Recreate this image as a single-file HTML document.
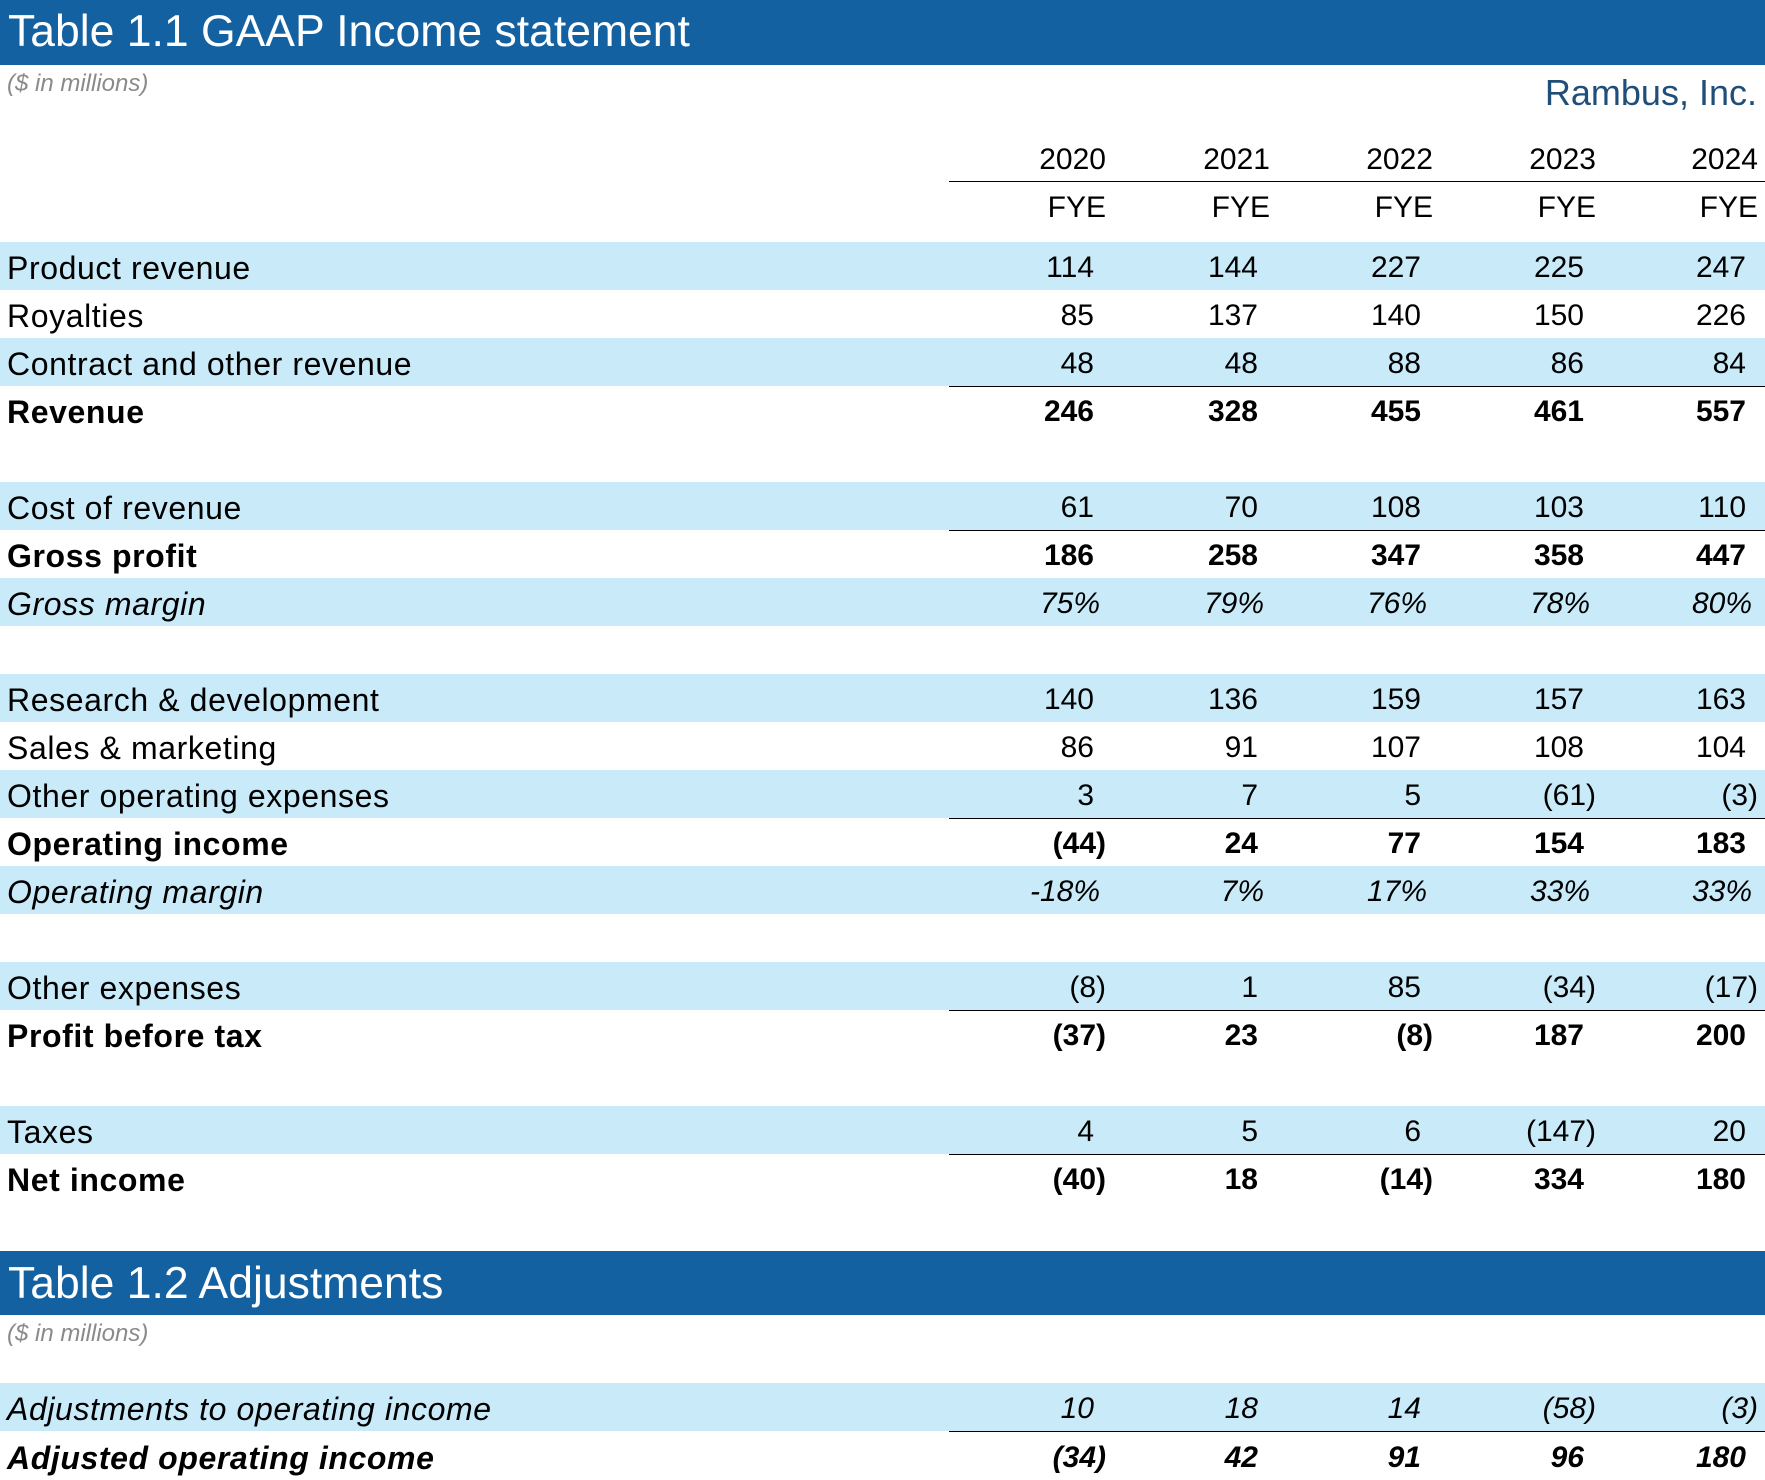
<!DOCTYPE html>
<html><head><meta charset="utf-8">
<style>
html,body{margin:0;padding:0;background:#fff;}
#page{position:relative;width:1765px;height:1480px;overflow:hidden;font-family:"Liberation Sans",sans-serif;color:#000;}
.hdr{position:absolute;left:0;width:1765px;background:#1461a1;color:#fff;font-size:44.5px;}
.hdr span{position:absolute;left:8px;}
.sub{position:absolute;left:7px;font-size:24px;font-style:italic;color:#8a8a8a;}
.band{position:absolute;left:0;width:1765px;height:48px;background:#c9eaf8;}
.lbl{position:absolute;left:7px;font-size:32px;letter-spacing:0.6px;line-height:48px;height:48px;white-space:nowrap;}
.num{position:absolute;font-size:30px;line-height:48px;height:48px;text-align:right;white-space:nowrap;}
.ul{position:absolute;left:949px;right:0;height:0;border-top:1.5px solid #000;}
.b{font-weight:bold;} .i{font-style:italic;}
</style></head>
<body>
<div id="page">
<div class="hdr" style="top:0;height:65px"><span style="top:7px">Table 1.1 GAAP Income statement</span></div>
<div class="sub" style="top:70px">($ in millions)</div>
<div style="position:absolute;right:8px;top:72px;font-size:36px;color:#1f4e79">Rambus, Inc.</div>
<div class="hdr" style="top:1251px;height:64px"><span style="top:8px">Table 1.2 Adjustments</span></div>
<div class="sub" style="top:1320px">($ in millions)</div>
</div>
<script>
const years=["2020","2021","2022","2023","2024"];
const productRevenue=["114","144","227","225","247"];
const royalties=["85","137","140","150","226"];
const contractRevenue=["48","48","88","86","84"];
const revenue=["246","328","455","461","557"];
const costOfRevenue=["61","70","108","103","110"];
const grossProfit=["186","258","347","358","447"];
const grossMargin=["75%","79%","76%","78%","80%"];
const rnd=["140","136","159","157","163"];
const salesMarketing=["86","91","107","108","104"];
const otherOpex=["3","7","5","(61)","(3)"];
const operatingIncome=["(44)","24","77","154","183"];
const operatingMargin=["-18%","7%","17%","33%","33%"];
const otherExpenses=["(8)","1","85","(34)","(17)"];
const profitBeforeTax=["(37)","23","(8)","187","200"];
const taxes=["4","5","6","(147)","20"];
const netIncome=["(40)","18","(14)","334","180"];
const adjustments=["10","18","14","(58)","(3)"];
const adjustedOpIncome=["(34)","42","91","96","180"];

const rows=[
 {l:"Product revenue",v:productRevenue,band:1,r:0},
 {l:"Royalties",v:royalties,r:1},
 {l:"Contract and other revenue",v:contractRevenue,band:1,r:2,ul:1},
 {l:"Revenue",v:revenue,b:1,r:3},
 {l:"Cost of revenue",v:costOfRevenue,band:1,r:5,ul:1},
 {l:"Gross profit",v:grossProfit,b:1,r:6},
 {l:"Gross margin",v:grossMargin,i:1,band:1,r:7},
 {l:"Research & development",v:rnd,band:1,r:9},
 {l:"Sales & marketing",v:salesMarketing,r:10},
 {l:"Other operating expenses",v:otherOpex,band:1,r:11,ul:1},
 {l:"Operating income",v:operatingIncome,b:1,r:12},
 {l:"Operating margin",v:operatingMargin,i:1,band:1,r:13},
 {l:"Other expenses",v:otherExpenses,band:1,r:15,ul:1},
 {l:"Profit before tax",v:profitBeforeTax,b:1,r:16},
 {l:"Taxes",v:taxes,band:1,r:18,ul:1},
 {l:"Net income",v:netIncome,b:1,r:19},
 {l:"Adjustments to operating income",v:adjustments,i:1,band:1,top:1383,ul:1},
 {l:"Adjusted operating income",v:adjustedOpIncome,b:1,i:1,top:1432}
];
const colRight=[1106,1270,1433,1596,1758];
const page=document.getElementById('page');
function slug(s){return s.toLowerCase().replace(/&/g,'and').replace(/[^a-z0-9]+/g,'-').replace(/-$/,'');}
years.forEach((y,k)=>{
 const d=document.createElement('div');
 d.className='num';
 d.style.top='136px';d.style.right=(1765-colRight[k])+'px';
 d.textContent=y;
 
 
 page.appendChild(d);
 const f=document.createElement('div');
 f.className='num';
 f.style.top='184px';f.style.right=(1765-colRight[k])+'px';
 f.textContent='FYE';
 
 
 page.appendChild(f);
});
const hl=document.createElement('div');
hl.className='ul';hl.style.top='181px';


page.appendChild(hl);

rows.forEach(row=>{
 const top=row.top!==undefined?row.top:242+row.r*48;
 const key=slug(row.l);
 if(row.band){
  const bd=document.createElement('div');
  bd.className='band';bd.style.top=top+'px';
  
  
  page.appendChild(bd);
 }
 const lb=document.createElement('div');
 lb.className='lbl'+(row.b?' b':'')+(row.i?' i':'');
 lb.style.top=(top+2)+'px';
 lb.textContent=row.l;
 
 
 page.appendChild(lb);
 row.v.forEach((val,k)=>{
  const n=document.createElement('div');
  n.className='num'+(row.b?' b':'')+(row.i?' i':'');
  let pad=val.endsWith(')')?0:(val.endsWith('%')?6:12);
  n.style.top=(top+2)+'px';
  n.style.right=(1765-colRight[k]+pad)+'px';
  n.textContent=val;
  
  
  page.appendChild(n);
 });
 if(row.ul){
  const u=document.createElement('div');
  u.className='ul';u.style.top=(top+48)+'px';
  
  
  page.appendChild(u);
 }
});
</script>
</body></html>
